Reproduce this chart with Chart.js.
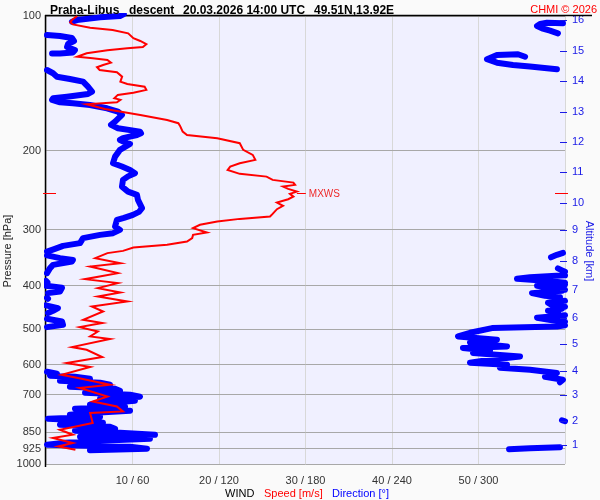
<!DOCTYPE html>
<html>
<head>
<meta charset="utf-8">
<script src="https://cdn.jsdelivr.net/npm/chart.js@4.4.1/dist/chart.umd.min.js"></script>
<style>
html,body{margin:0;padding:0;background:#fafafa;}
canvas{display:block;}
</style>
</head>
<body>
<canvas id="c" width="600" height="500"></canvas>
<script>
// ---------- DATA ----------
const pressureTicks = [100, 200, 300, 400, 500, 600, 700, 850, 925, 1000];
const speedTicks = [0, 10, 20, 30, 40, 50, 60];
const altitudeKm = [1, 2, 3, 4, 5, 6, 7, 8, 9, 10, 11, 12, 13, 14, 15, 16];
const altitudePressure = [908, 800, 703, 619, 540, 472, 409, 353, 301, 261, 223, 190.7, 163.5, 139.6, 119.5, 102];

// wind speed [m/s] vs pressure [hPa]
const speedPressure = [100.0,102.1,103.3,104.4,106.2,107.5,109.3,112.1,113.7,115.6,
  117.3,118.0,119.3,121.1,123.3,124.3,125.4,127.1,128.6,130.1,
  132.0,133.5,136.6,140.1,141.8,143.8,146.2,148.3,150.0,152.6,
  153.9,155.8,157.4,159.2,161.2,162.9,166.3,170.6,173.5,175.9,
  181.2,184.3,187.4,192.3,199.0,204.2,209.5,213.1,216.8,220.6,
  225.1,228.3,232.2,235.4,238.2,240.3,243.2,246.6,249.5,253.0,
  256.4,260.9,265.3,269.9,276.5,280.3,283.7,287.6,292.5,297.5,
  304.3,308.0,313.2,318.7,324.2,328.7,334.4,338.3,347.1,356.2,
  362.4,374.9,386.7,394.7,405.0,414.2,422.8,433.8,445.1,456.7,
  476.6,484.7,494.8,506.1,519.2,526.2,548.3,556.0,577.2,595.3,
  607.6,632.1,642.9,665.5,676.8,706.7,725.1,743.9,763.3,769.6,
  810.1,838.5,860.3,875.0,897.8,913.6,929.2];
const speedValues = [3.6,3.0,2.8,3.1,5.1,7.7,9.5,10.1,10.9,11.6,
  11.2,9.4,7.1,4.7,3.6,5.4,7.1,7.5,6.6,5.9,
  6.2,8.2,8.8,8.6,9.4,11.4,11.6,10.1,8.3,7.9,
  8.6,8.2,4.7,5.7,6.8,8.2,10.9,14.0,15.3,15.5,
  15.8,16.3,19.8,22.4,22.8,23.9,24.2,22.4,21.3,21.0,
  22.4,25.5,26.2,28.6,28.8,27.4,28.0,29.0,28.2,28.6,
  28.0,26.7,27.4,26.7,26.2,25.9,22.4,19.8,17.8,17.0,
  18.6,17.0,16.9,16.3,14.0,10.1,8.9,7.1,5.7,8.6,
  5.1,8.3,4.5,8.3,6.0,8.6,6.0,9.4,5.3,6.6,
  4.3,6.5,3.9,6.0,5.1,7.4,3.0,4.7,6.5,2.4,
  5.1,1.8,3.7,7.4,3.9,7.1,5.4,8.2,8.9,5.1,
  5.4,1.6,3.1,0.8,3.1,1.4,3.4];

// wind direction [deg] vs pressure [hPa]; null = break (wrap 0/360)
const dirPressure = [
  99,100,100.7,102.1,103.0, null,
  103.8,103.5,104.2,105.3,106.5,107.8,109.3, null,
  110.3,110.8,112.0,113.7,115.5,117.3,119.1,120.6,121.2,121.2, null,
  123.3,121.7,122.2,124.9,127.1,128.6,129.7,130.8,131.5, null,
  132.0,134.2,136.6,138.2,140.1,143.8,147.5,149.3,151.4,152.6,153.9,155.8,156.6,158.0,160.7,163.5,166.3,172.1,175.0,178.0,
  181.2,182.7,184.3,187.4,189.1,192.3,193.0,199.0,206.0,213.1,216.8,220.6,224.3,228.0,232.2,240.3,246.6,250.8,257.3,268.5,
  273.7,277.9,282.2,285.1,295.1,300.2,305.3,308.0,313.2,321.4,325.9,330.9,335.6, null,
  337.8,341.3,345.7, null,
  342.2,347.1,350.2,353.2,359.3,365.4,374.9, null,
  365.8,369.6,372.4, null,
  379.2,383.1,386.1,390.1,394.1, null,
  390.1,393.1, null,
  397.1,400.2,404.3,408.5, null,
  400.2,404.3,412.1,415.5, null,
  410.6,415.5,421.3,424.6, null,
  425.7,427.8, null,
  432.3,436.7,442.4,445.8, null,
  442.4,448.8,455.0,460.4, null,
  450.4,455.0,459.7, null,
  465.7,471.7,477.8,481.5, null,
  474.1,480.7,489.0,494.8, null,
  490.2,493.3,497.3,509.5,519.2,528.1,536.3,546.6,551.1,558.8,565.5,575.4,585.3,594.3,600.5,609.8,616.1,626.6,638.7,648.6,657.0, null,
  622.5,628.9,635.4,638.7,645.3,651.9,658.7,665.5,672.3,679.3,686.3,693.4,700.5,707.8,715.1,722.5,729.9,737.4,745.1,752.8,
  760.5,768.4,776.3,784.3,792.4,800.6,808.9,817.2,825.7,834.2,842.8,851.5,860.3,869.2,878.2,887.2,896.4,905.6,915.0,924.4,931.6, null,
  798.6,802.7, null,
  926.8,922.1,917.3];
const dirValues = [
  54,51.3,37.5,21.5,18.0, null,
  358.6,347.5,342.7,340.6,344.0,349.6,355.1, null,
  0.7,9.7,18.0,19.4,15.3,14.6,20.1,18.7,9.7,4.2, null,
  332.3,327.4,312.8,305.9,312.8,323.9,335.7,347.5,354.4, null,
  0.7,4.9,7.6,16.6,25.7,29.1,31.9,29.1,14.6,4.9,4.2,9.7,18.7,30.5,42.3,49.9,52.7,47.9,45.1,49.9,
  65.2,65.9,63.1,53.4,51.3,56.2,58.3,51.3,47.9,46.5,52.7,58.3,61.7,56.9,53.4,52.7,56.9,63.1,63.8,66.6,
  64.5,60.3,54.1,49.2,47.9,51.3,46.5,37.5,25.7,23.6,11.8,6.2,0.7, null,
  358.6,354.4,350.3, null,
  0.7,9.7,18.7,18.0,4.9,2.8,0.7, null,
  355.1,357.9,360, null,
  360,335.7,326.7,346.1,360, null,
  0,1.0, null,
  360,340.6,349.6,360, null,
  0,11.1,9.7,1.4, null,
  357.9,337.1,346.1,356.5, null,
  0.7,1.4, null,
  360,348.2,351.0,360, null,
  0,8.3,4.9,1.4, null,
  357.9,348.2,355.1, null,
  360,340.6,351.0,360, null,
  0.7,11.1,11.8,0.7, null,
  360,354.4,309.4,294.1,285.8,312.8,294.1,319.8,289.2,308.0,296.2,328.8,308.0,294.1,319.8,314.9,335.7,354.4,346.1,358.6,356.5, null,
  0.7,7.6,2.8,20.1,30.5,9.7,37.5,44.4,16.6,47.9,51.3,27.1,58.3,65.2,37.5,61.7,44.4,30.5,54.8,20.1,
  58.3,34.0,16.6,37.5,1.4,30.5,39.5,9.7,44.4,47.9,20.1,51.3,75.6,23.6,72.1,37.5,13.2,0.7,58.3,70.1,30.5, null,
  357.9,360, null,
  321.2,335.7,356.5];

const maxWindPressure = 248;
const maxWindSpeed = 29.0;

// ---------- CHART ----------
const FONT = "'Liberation Sans', Arial, Helvetica, sans-serif";
const speedData = speedPressure.map((p, i) => ({x: speedValues[i], y: p}));
const dirData = dirPressure.map((p, i) => (p === null || dirValues[i] === null) ? {x: null, y: null} : {x: dirValues[i] / 6, y: p});

const decorPlugin = {
  id: 'decor',
  beforeDraw(chart) {
    const {ctx, chartArea: a} = chart;
    ctx.save();
    ctx.fillStyle = '#fafafa';
    ctx.fillRect(0, 0, chart.width, chart.height);
    ctx.fillStyle = '#f0f0ff';
    ctx.fillRect(a.left, a.top, a.right - a.left, a.bottom - a.top);
    ctx.restore();
  },
  beforeDatasetsDraw(chart) {
    const {ctx, chartArea: a} = chart;
    ctx.save();
    ctx.strokeStyle = '#000';
    ctx.lineWidth = 1.5;
    ctx.beginPath();
    ctx.moveTo(a.left - 1, a.top - 0.5);
    ctx.lineTo(592, a.top - 0.5);
    ctx.moveTo(a.left - 0.5, a.top - 1);
    ctx.lineTo(a.left - 0.5, a.bottom + 3);
    ctx.stroke();
    ctx.restore();
  },
  afterDatasetsDraw(chart) {
    const {ctx, chartArea: a, scales} = chart;
    const ys = scales.y, xs = scales.x;
    ctx.save();
    // altitude tick marks
    ctx.strokeStyle = '#1a1ae6';
    ctx.lineWidth = 1.2;
    ctx.beginPath();
    altitudePressure.forEach(p => {
      const y = Math.round(ys.getPixelForValue(p)) + 0.5;
      ctx.moveTo(a.right - 5, y);
      ctx.lineTo(a.right + 2, y);
    });
    ctx.stroke();
    // max wind marks
    const my = Math.round(ys.getPixelForValue(maxWindPressure)) + 0.5;
    const mx = xs.getPixelForValue(maxWindSpeed);
    ctx.strokeStyle = '#ff0000';
    ctx.lineWidth = 1;
    ctx.beginPath();
    ctx.moveTo(a.left - 3, my); ctx.lineTo(a.left + 10, my);
    ctx.moveTo(a.right - 10, my); ctx.lineTo(a.right + 3, my);
    ctx.moveTo(mx, my); ctx.lineTo(mx + 9, my);
    ctx.stroke();
    ctx.fillStyle = '#ee2a2a';
    ctx.font = '10px ' + FONT;
    ctx.textBaseline = 'middle';
    ctx.textAlign = 'left';
    ctx.fillText('MXWS', mx + 12, my + 0.5);
    ctx.restore();
  },
  afterDraw(chart) {
    const {ctx} = chart;
    ctx.save();
    ctx.textBaseline = 'alphabetic';
    ctx.textAlign = 'left';
    ctx.fillStyle = '#000';
    ctx.font = 'bold 12px ' + FONT;
    ctx.fillText('Praha-Libus', 50, 13.5);
    ctx.fillText('descent', 129, 13.5);
    ctx.fillText('20.03.2026 14:00 UTC', 183, 13.5);
    ctx.fillText('49.51N,13.92E', 314, 13.5);
    ctx.font = '11px ' + FONT;
    ctx.fillStyle = '#ff0000';
    ctx.textAlign = 'right';
    ctx.fillText('CHMI \u00A9 2026', 597, 13);
    // bottom legend
    ctx.textAlign = 'left';
    ctx.fillStyle = '#000';
    ctx.fillText('WIND', 225, 497);
    ctx.fillStyle = '#ff0000';
    ctx.fillText('Speed [m/s]', 264, 497);
    ctx.fillStyle = '#0000ff';
    ctx.fillText('Direction [\u00B0]', 332, 497);
    // axis titles
    ctx.textAlign = 'center';
    ctx.textBaseline = 'middle';
    ctx.fillStyle = '#222';
    ctx.save();
    ctx.translate(8, 251);
    ctx.rotate(-Math.PI / 2);
    ctx.fillText('Pressure [hPa]', 0, 0);
    ctx.restore();
    ctx.fillStyle = '#1a1ae6';
    ctx.save();
    ctx.translate(589, 251);
    ctx.rotate(Math.PI / 2);
    ctx.fillText('Altitude [km]', 0, 0);
    ctx.restore();
    ctx.restore();
  }
};

new Chart(document.getElementById('c').getContext('2d'), {
  type: 'scatter',
  data: {
    datasets: [
      {label: 'Speed [m/s]', data: speedData, showLine: true, borderColor: '#ff0000', backgroundColor: '#ff0000',
       borderWidth: 2, pointRadius: 0, spanGaps: false, order: 0, clip: 1},
      {label: 'Direction [\u00B0]', data: dirData, showLine: true, borderColor: '#0000ff', backgroundColor: '#0000ff',
       borderWidth: 6, borderCapStyle: 'round', borderJoinStyle: 'round', pointRadius: 0, spanGaps: false, order: 1,
       clip: {left: 2, right: 3, top: 3, bottom: 2}}
    ]
  },
  options: {
    responsive: false,
    animation: false,
    devicePixelRatio: 1,
    events: [],
    layout: {padding: {top: 16, left: 0, right: 0, bottom: 0}},
    plugins: {legend: {display: false}, tooltip: {enabled: false}, title: {display: false}},
    scales: {
      x: {
        type: 'linear', position: 'bottom', min: 0, max: 60,
        afterFit: s => { s.height = 36; },
        afterBuildTicks: s => { s.ticks = speedTicks.map(v => ({value: v})); },
        ticks: {autoSkip: false, maxRotation: 0, padding: 10, color: '#333', font: {family: FONT, size: 11},
          callback: v => (v > 0 && v < 60) ? (v + ' / ' + v * 6) : ''},
        grid: {color: '#d8d8d8', drawTicks: false, lineWidth: 1},
        border: {display: false}
      },
      y: {
        type: 'logarithmic', position: 'left', min: 100, max: 1000, reverse: true,
        afterFit: s => { s.width = 46; },
        afterBuildTicks: s => { s.ticks = pressureTicks.map(v => ({value: v})); },
        ticks: {autoSkip: false, padding: 5, color: '#333', font: {family: FONT, size: 11},
          callback: v => String(v)},
        grid: {color: '#a8a8a8', drawTicks: false, lineWidth: 1},
        border: {display: false}
      },
      y2: {
        type: 'logarithmic', position: 'right', min: 100, max: 1000, reverse: true,
        afterFit: s => { s.width = 35; },
        afterBuildTicks: s => { s.ticks = altitudePressure.map(v => ({value: v})); },
        ticks: {autoSkip: false, padding: 7, color: '#1a1ae6', font: {family: FONT, size: 11},
          callback: v => String(altitudeKm[altitudePressure.indexOf(v)])},
        grid: {display: false, drawTicks: false},
        border: {display: false}
      }
    }
  },
  plugins: [decorPlugin]
});
</script>
</body>
</html>
